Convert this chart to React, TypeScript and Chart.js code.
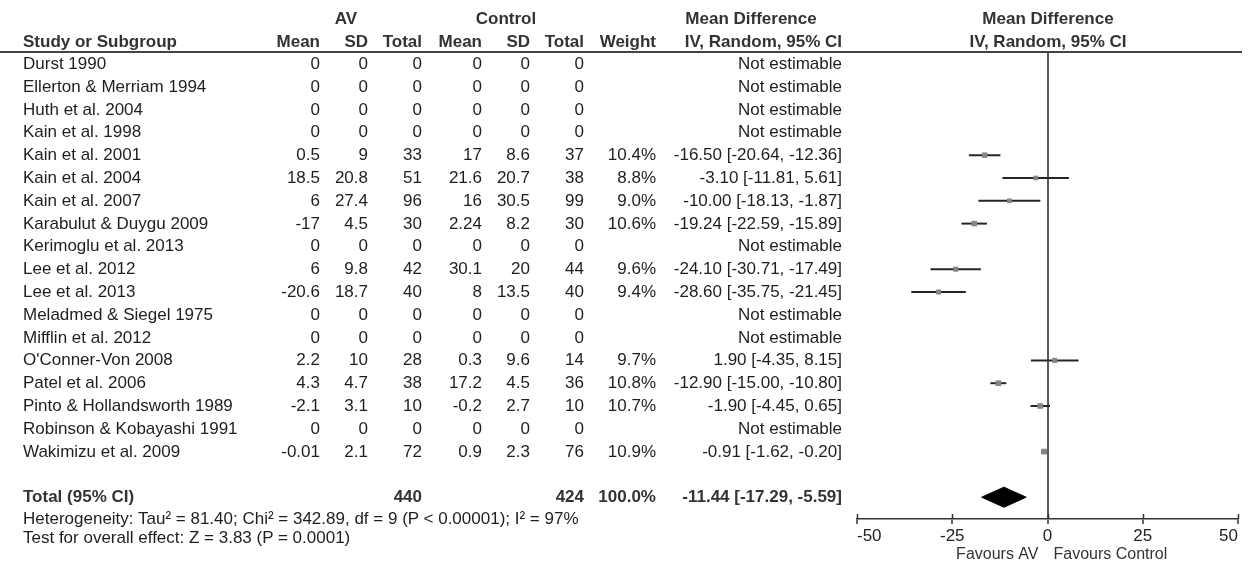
import React, { useEffect, useRef } from "react";
import { Chart, registerables } from "chart.js";

Chart.register(...registerables);

const studies = [
  "Durst 1990",
  "Ellerton & Merriam 1994",
  "Huth et al. 2004",
  "Kain et al. 1998",
  "Kain et al. 2001",
  "Kain et al. 2004",
  "Kain et al. 2007",
  "Karabulut & Duygu 2009",
  "Kerimoglu et al. 2013",
  "Lee et al. 2012",
  "Lee et al. 2013",
  "Meladmed & Siegel 1975",
  "Mifflin et al. 2012",
  "O'Conner-Von 2008",
  "Patel et al. 2006",
  "Pinto & Hollandsworth 1989",
  "Robinson & Kobayashi 1991",
  "Wakimizu et al. 2009",
];
const avMean = [0, 0, 0, 0, 0.5, 18.5, 6, -17, 0, 6, -20.6, 0, 0, 2.2, 4.3, -2.1, 0, -0.01];
const avSD = [0, 0, 0, 0, 9, 20.8, 27.4, 4.5, 0, 9.8, 18.7, 0, 0, 10, 4.7, 3.1, 0, 2.1];
const avTotal = [0, 0, 0, 0, 33, 51, 96, 30, 0, 42, 40, 0, 0, 28, 38, 10, 0, 72];
const ctMean = [0, 0, 0, 0, 17, 21.6, 16, 2.24, 0, 30.1, 8, 0, 0, 0.3, 17.2, -0.2, 0, 0.9];
const ctSD = [0, 0, 0, 0, 8.6, 20.7, 30.5, 8.2, 0, 20, 13.5, 0, 0, 9.6, 4.5, 2.7, 0, 2.3];
const ctTotal = [0, 0, 0, 0, 37, 38, 99, 30, 0, 44, 40, 0, 0, 14, 36, 10, 0, 76];
const weight: (number | null)[] = [null, null, null, null, 10.4, 8.8, 9.0, 10.6, null, 9.6, 9.4, null, null, 9.7, 10.8, 10.7, null, 10.9];
const md: (number | null)[] = [null, null, null, null, -16.5, -3.1, -10.0, -19.24, null, -24.1, -28.6, null, null, 1.9, -12.9, -1.9, null, -0.91];
const ciLow: (number | null)[] = [null, null, null, null, -20.64, -11.81, -18.13, -22.59, null, -30.71, -35.75, null, null, -4.35, -15.0, -4.45, null, -1.62];
const ciHigh: (number | null)[] = [null, null, null, null, -12.36, 5.61, -1.87, -15.89, null, -17.49, -21.45, null, null, 8.15, -10.8, 0.65, null, -0.2];

const totalAV = 440;
const totalCt = 424;
const totalWeight = 100.0;
const totalMd = -11.44;
const totalLow = -17.29;
const totalHigh = -5.59;
const totalRow = 19;

const xTicks = [-50, -25, 0, 25, 50];
const heterogeneity = "Heterogeneity: Tau\u00b2 = 81.40; Chi\u00b2 = 342.89, df = 9 (P < 0.00001); I\u00b2 = 97%";
const overallTest = "Test for overall effect: Z = 3.83 (P = 0.0001)";

const FONT = '"Liberation Sans", Arial, sans-serif';
const ROW0 = 64;
const ROWH = 22.8;
const rowY = (i: number) => ROW0 + ROWH * i;

const fmtCI = (m: number, lo: number, hi: number) =>
  `${m.toFixed(2)} [${lo.toFixed(2)}, ${hi.toFixed(2)}]`;

type TProps = {
  text: string;
  x: number;
  y: number;
  align?: "left" | "right" | "center";
  bold?: boolean;
  color?: string;
  size?: number;
};

function T({ text, x, y, align = "right", bold = false, color = "#1e1e1e", size = 17 }: TProps) {
  const style: React.CSSProperties = {
    position: "absolute",
    top: y - 10,
    height: 20,
    lineHeight: "20px",
    whiteSpace: "nowrap",
    fontSize: size,
    fontFamily: FONT,
    fontWeight: bold ? "bold" : "normal",
    color,
  };
  if (align === "right") style.right = 1248 - x;
  else if (align === "center") {
    style.left = x;
    style.transform = "translateX(-50%)";
  } else style.left = x;
  return <div style={style}>{text}</div>;
}

const extrasPlugin = {
  id: "extras",
  afterDraw(chart: any) {
    const { ctx } = chart;
    const xs = chart.scales.x;
    const yAxis = xs.top;
    ctx.save();
    ctx.strokeStyle = "#333";
    ctx.lineWidth = 1.5;
    xs.ticks.forEach((t: any) => {
      const px = Math.round(xs.getPixelForValue(t.value)) + 0.5;
      ctx.beginPath();
      ctx.moveTo(px, yAxis - 5);
      ctx.lineTo(px, yAxis);
      ctx.stroke();
    });
    const zero = xs.getPixelForValue(0);
    ctx.fillStyle = "#333";
    ctx.font = `16px ${FONT}`;
    ctx.textBaseline = "middle";
    ctx.textAlign = "right";
    ctx.fillText("Favours AV", zero - 9, 555);
    ctx.textAlign = "left";
    ctx.fillText("Favours Control", zero + 6, 555);
    ctx.restore();
  },
};

export default function App() {
  const canvasRef = useRef<HTMLCanvasElement | null>(null);

  useEffect(() => {
    if (!canvasRef.current) return;
    const ciSets: any[] = [];
    const pts: { x: number; y: number }[] = [];
    const radii: number[] = [];
    studies.forEach((_, i) => {
      const m = md[i];
      const lo = ciLow[i];
      const hi = ciHigh[i];
      const w = weight[i];
      if (m === null || lo === null || hi === null || w === null) return;
      ciSets.push({
        type: "line",
        data: [
          { x: lo, y: i },
          { x: hi, y: i },
        ],
        borderColor: "#262626",
        borderWidth: 2,
        pointRadius: 0,
        fill: false,
        order: 2,
      });
      pts.push({ x: m, y: i });
      radii.push(3.9 * (w / 10.5));
    });

    const chart = new Chart(canvasRef.current, {
      type: "scatter",
      data: {
        datasets: [
          {
            type: "scatter",
            data: pts,
            pointStyle: "rect",
            pointRadius: radii,
            backgroundColor: "#858585",
            borderColor: "#858585",
            borderWidth: 0,
            order: 0,
          } as any,
          ...ciSets,
          {
            type: "line",
            data: [
              { x: totalLow, y: totalRow },
              { x: totalMd, y: totalRow - 0.44 },
              { x: totalHigh, y: totalRow },
            ],
            borderColor: "#000",
            borderWidth: 1,
            pointRadius: 0,
            fill: false,
            order: 1,
          },
          {
            type: "line",
            data: [
              { x: totalLow, y: totalRow },
              { x: totalMd, y: totalRow + 0.44 },
              { x: totalHigh, y: totalRow },
            ],
            borderColor: "#000",
            backgroundColor: "#000",
            borderWidth: 1,
            pointRadius: 0,
            fill: "-1",
            order: 1,
          },
        ],
      },
      options: {
        animation: false,
        responsive: false,
        events: [],
        layout: { padding: { left: 857, right: 10, top: 52, bottom: 0 } },
        plugins: { legend: { display: false }, tooltip: { enabled: false } },
        scales: {
          x: {
            type: "linear",
            min: xTicks[0],
            max: xTicks[xTicks.length - 1],
            afterBuildTicks: (scale: any) => {
              scale.ticks = xTicks.map((v) => ({ value: v }));
            },
            afterFit: (scale: any) => {
              scale.height = 45;
            },
            ticks: {
              align: "inner",
              color: "#222",
              font: { family: FONT, size: 17 },
              padding: 2,
              maxRotation: 0,
              autoSkip: false,
            },
            grid: {
              drawOnChartArea: true,
              color: (c: any) => (c.tick && c.tick.value === 0 ? "#5a5a5a" : "rgba(0,0,0,0)"),
              lineWidth: 2,
              tickColor: "#333",
              tickLength: 5,
              tickWidth: 1.5,
            },
            border: { display: true, color: "#333", width: 1.5 },
          },
          y: {
            type: "linear",
            min: -0.526,
            max: 19.956,
            reverse: true,
            display: false,
          },
        },
      } as any,
      plugins: [extrasPlugin],
    });
    return () => chart.destroy();
  }, []);

  const cols = [
    { x: 320, v: avMean },
    { x: 368, v: avSD },
    { x: 422, v: avTotal },
    { x: 482, v: ctMean },
    { x: 530, v: ctSD },
    { x: 584, v: ctTotal },
  ];

  const hdr = "#333";

  return (
    <div style={{ position: "fixed", left: 0, top: 0, width: 1248, height: 564, background: "#fff", overflow: "hidden" }}>
      <canvas ref={canvasRef} width={1248} height={564} style={{ position: "absolute", left: 0, top: 0 }} />
      <div style={{ position: "absolute", left: 0, top: 51, width: 1242, height: 2, background: "#444" }} />
      <T text="AV" x={346} y={19} align="center" bold color={hdr} />
      <T text="Control" x={506} y={19} align="center" bold color={hdr} />
      <T text="Mean Difference" x={751} y={19} align="center" bold color={hdr} />
      <T text="Mean Difference" x={1048} y={19} align="center" bold color={hdr} />
      <T text="Study or Subgroup" x={23} y={42} align="left" bold color={hdr} />
      <T text="Mean" x={320} y={42} bold color={hdr} />
      <T text="SD" x={368} y={42} bold color={hdr} />
      <T text="Total" x={422} y={42} bold color={hdr} />
      <T text="Mean" x={482} y={42} bold color={hdr} />
      <T text="SD" x={530} y={42} bold color={hdr} />
      <T text="Total" x={584} y={42} bold color={hdr} />
      <T text="Weight" x={656} y={42} bold color={hdr} />
      <T text="IV, Random, 95% CI" x={842} y={42} bold color={hdr} />
      <T text="IV, Random, 95% CI" x={1048} y={42} align="center" bold color={hdr} />
      {studies.map((s, i) => (
        <React.Fragment key={s}>
          <T text={s} x={23} y={rowY(i)} align="left" />
          {cols.map((c, j) => (
            <T key={j} text={String(c.v[i])} x={c.x} y={rowY(i)} />
          ))}
          {weight[i] !== null && <T text={`${(weight[i] as number).toFixed(1)}%`} x={656} y={rowY(i)} />}
          <T
            text={md[i] === null ? "Not estimable" : fmtCI(md[i] as number, ciLow[i] as number, ciHigh[i] as number)}
            x={842}
            y={rowY(i)}
          />
        </React.Fragment>
      ))}
      <T text="Total (95% CI)" x={23} y={rowY(totalRow)} align="left" bold color={hdr} />
      <T text={String(totalAV)} x={422} y={rowY(totalRow)} bold color={hdr} />
      <T text={String(totalCt)} x={584} y={rowY(totalRow)} bold color={hdr} />
      <T text={`${totalWeight.toFixed(1)}%`} x={656} y={rowY(totalRow)} bold color={hdr} />
      <T text={fmtCI(totalMd, totalLow, totalHigh)} x={842} y={rowY(totalRow)} bold color={hdr} />
      <T text={heterogeneity} x={23} y={519} align="left" />
      <T text={overallTest} x={23} y={538} align="left" />
    </div>
  );
}
